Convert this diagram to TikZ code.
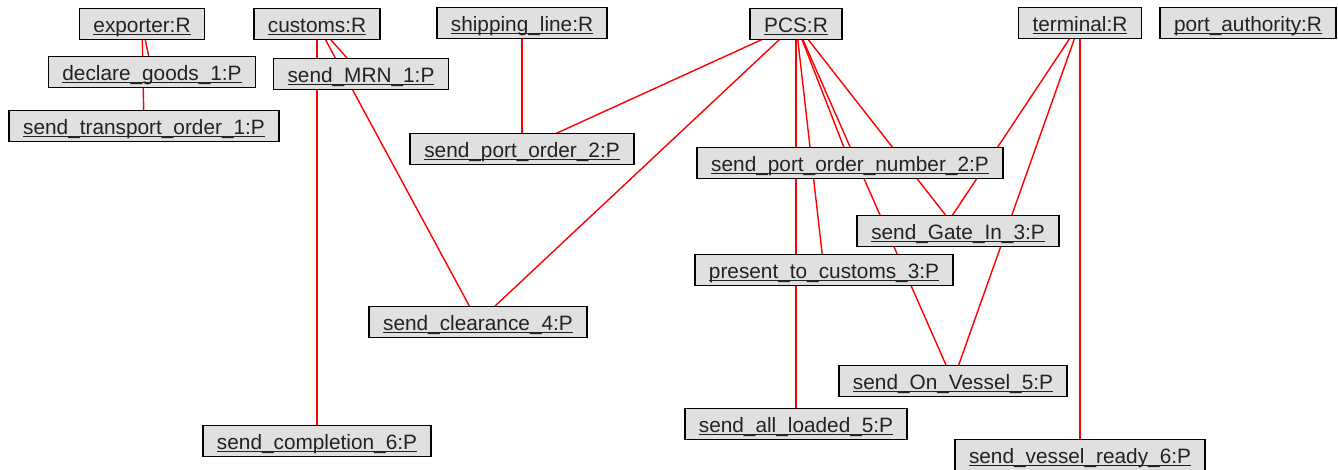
\documentclass[tikz,border=0pt]{standalone}
\usepackage{fontspec}
\setmainfont{Liberation Sans}
\usetikzlibrary{backgrounds}
\definecolor{objgray}{RGB}{224,224,224}
\definecolor{linkred}{RGB}{255,0,0}
\definecolor{objtext}{RGB}{34,34,34}
\newcommand{\ulname}[1]{\setbox0\hbox{#1}\rlap{\rule[-2.4pt]{\wd0}{1.3pt}}\box0}

\begin{document}
\begin{tikzpicture}[x=1pt,y=-1pt,
	obj/.style={draw=black,fill=objgray,line width=1.6pt,minimum height=31pt,inner xsep=14pt,inner ysep=0pt,text height=19pt,text depth=2pt,text=objtext,font=\fontsize{20.8}{24}\selectfont},
	link/.style={draw=linkred,line width=1.4pt}]
	\useasboundingbox (0,0) rectangle (1338,470);
	% roles
	\coordinate (r1) at (142,24);
	\coordinate (r2) at (317,24);
	\coordinate (r3) at (522,23);
	\coordinate (r4) at (796,24);
	\coordinate (r5) at (1080,23);
	\coordinate (r6) at (1248,23);
	% processes
	\coordinate (p1) at (152,72);
	\coordinate (p2) at (361,74);
	\coordinate (p3) at (144,126);
	\coordinate (p4) at (522,149);
	\coordinate (p5) at (850,163);
	\coordinate (p6) at (958,231);
	\coordinate (p7) at (824,270);
	\coordinate (p8) at (478,322);
	\coordinate (p9) at (953,381);
	\coordinate (p10) at (796,424);
	\coordinate (p11) at (317,441);
	\coordinate (p12) at (1080,455);
	
	\node (exporter) at (r1) [obj] {\ulname{exporter:R}};
	\node (customs) at (r2) [obj] {\ulname{customs:R}};
	\node (shipline) at (r3) [obj] {\ulname{shipping\_line:R}};
	\node (pcs) at (r4) [obj] {\ulname{PCS:R}};
	\node (terminal) at (r5) [obj] {\ulname{terminal:R}};
	\node (portauth) at (r6) [obj] {\ulname{port\_authority:R}};
	
	\node (declare) at (p1) [obj] {\ulname{declare\_goods\_1:P}};
	\node (mrn) at (p2) [obj] {\ulname{send\_MRN\_1:P}};
	\node (transport) at (p3) [obj] {\ulname{send\_transport\_order\_1:P}};
	\node (portorder) at (p4) [obj] {\ulname{send\_port\_order\_2:P}};
	\node (ponumber) at (p5) [obj] {\ulname{send\_port\_order\_number\_2:P}};
	\node (gatein) at (p6) [obj] {\ulname{send\_Gate\_In\_3:P}};
	\node (present) at (p7) [obj] {\ulname{present\_to\_customs\_3:P}};
	\node (clearance) at (p8) [obj] {\ulname{send\_clearance\_4:P}};
	\node (onvessel) at (p9) [obj] {\ulname{send\_On\_Vessel\_5:P}};
	\node (allloaded) at (p10) [obj] {\ulname{send\_all\_loaded\_5:P}};
	\node (completion) at (p11) [obj] {\ulname{send\_completion\_6:P}};
	\node (vready) at (p12) [obj] {\ulname{send\_vessel\_ready\_6:P}};
	
	\begin{pgfonlayer}{background}
		\draw[link] (exporter.center) -- (declare.center);
		\draw[link] (exporter.center) -- (transport.center);
		\draw[link] (customs.center) -- (mrn.center);
		\draw[link] (customs.center) -- (clearance.center);
		\draw[link] (customs.center) -- (completion.center);
		\draw[link] (shipline.center) -- (portorder.center);
		\draw[link] (pcs.center) -- (portorder.center);
		\draw[link] (pcs.center) -- (clearance.center);
		\draw[link] (pcs.center) -- (allloaded.center);
		\draw[link] (pcs.center) -- (present.center);
		\draw[link] (pcs.center) -- (ponumber.center);
		\draw[link] (pcs.center) -- (onvessel.center);
		\draw[link] (pcs.center) -- (gatein.center);
		\draw[link] (terminal.center) -- ([xshift=-16pt]gatein.center);
		\draw[link] (terminal.center) -- (onvessel.center);
		\draw[link] (terminal.center) -- (vready.center);
	\end{pgfonlayer}
\end{tikzpicture}
\end{document}
